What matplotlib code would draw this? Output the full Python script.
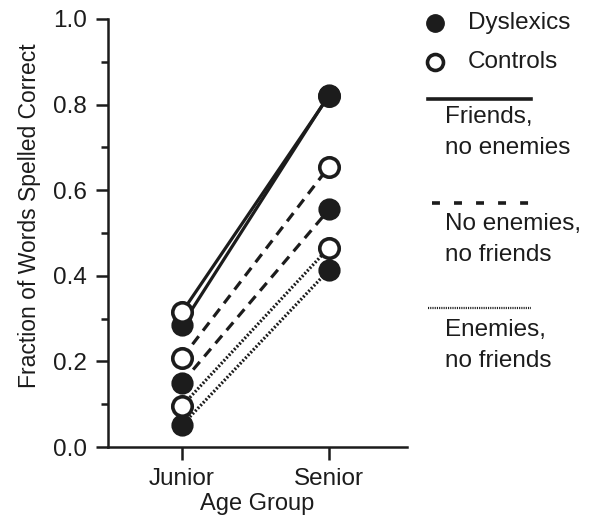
import matplotlib.pyplot as plt
from matplotlib.lines import Line2D

plt.rcParams['font.family'] = ['Liberation Sans', 'DejaVu Sans']

# data
groups = ["Junior", "Senior"]
conditions = ["Friends,\nno enemies", "No enemies,\nno friends", "Enemies,\nno friends"]
dyslexics = [[0.285, 0.823], [0.150, 0.555], [0.051, 0.414]]
controls = [[0.315, 0.821], [0.208, 0.655], [0.096, 0.466]]
styles = ["-", (0, (3.2, 2.2)), (0, (0.6, 0.6))]

ink = "#1c1c1c"
fig = plt.figure(figsize=(5.93, 5.17), dpi=100)
ax = fig.add_axes([108 / 593, 70 / 517, 299 / 593, 428 / 517])

x = list(range(len(groups)))
for ls, d, c in zip(styles, dyslexics, controls):
    ax.plot(x, c, color=ink, lw=2.3, ls=ls, zorder=2)
    ax.plot(x, d, color=ink, lw=2.3, ls=ls, zorder=2)

# markers: at Junior controls sit on top, at Senior dyslexics sit on top
for i in x:
    top_ctl = (i == 0)
    for d, c in zip(dyslexics, controls):
        ax.plot(i, d[i], "o", ms=14, mfc=ink, mec=ink, mew=2, zorder=3 if top_ctl else 5)
        ax.plot(i, c[i], "o", ms=14, mfc="white", mec=ink, mew=2.6, zorder=4)

ax.set_xlim(-0.503, 1.53)
ax.set_ylim(0, 1.0)
ax.set_xticks(x)
ax.set_xticklabels(groups)
ax.set_yticks([0.0, 0.2, 0.4, 0.6, 0.8, 1.0])
ax.set_yticks([0.1, 0.3, 0.5, 0.7, 0.9], minor=True)
ax.yaxis.set_major_formatter(plt.FuncFormatter(lambda v, p: f"{v:.1f}"))
for s in ["top", "right"]:
    ax.spines[s].set_visible(False)
for s in ["left", "bottom"]:
    ax.spines[s].set_linewidth(1.8)
    ax.spines[s].set_color(ink)
ax.tick_params(which="major", length=9, width=1.8, color=ink, labelsize=17.5, labelcolor=ink, pad=6)
ax.tick_params(which="minor", length=5, width=1.8, color=ink)
ax.set_xlabel("Age Group", fontsize=17, color=ink, labelpad=2)
ax.set_ylabel("Fraction of Words Spelled Correct", fontsize=16.5, color=ink)
ax.yaxis.set_label_coords(-0.225, 0.54)

# legend drawn by hand in figure pixels
W, H = 593, 517
def fx(px): return px / W
def fy(py): return 1 - py / H

fig.add_artist(Line2D([fx(435)], [fy(23)], marker="o", ms=12.5, mfc=ink, mec=ink, transform=fig.transFigure))
fig.text(fx(468), fy(23), "Dyslexics", fontsize=17.5, color=ink, va="center")
fig.add_artist(Line2D([fx(435)], [fy(62)], marker="o", ms=11.5, mfc="white", mec=ink, mew=2.6, transform=fig.transFigure))
fig.text(fx(468), fy(62), "Controls", fontsize=17.5, color=ink, va="center")

line_y = [99, 203, 308]
line_x0 = [428, 432, 428]
text_y = [106, 213, 319]
legend_styles = ["-", (0, (2.2, 3.9)), (0, (0.5, 0.5))]
legend_lw = [2.6, 2.6, 1.6]
for ly, lx, ty, ls, lw, lab in zip(line_y, line_x0, text_y, legend_styles, legend_lw, conditions):
    fig.add_artist(Line2D([fx(lx), fx(531)], [fy(ly), fy(ly)], color=ink, lw=lw, ls=ls,
                          transform=fig.transFigure))
    fig.text(fx(445), fy(ty), lab, fontsize=17.5, color=ink, va="top", linespacing=1.55)

fig.savefig("out.png", dpi=100)
